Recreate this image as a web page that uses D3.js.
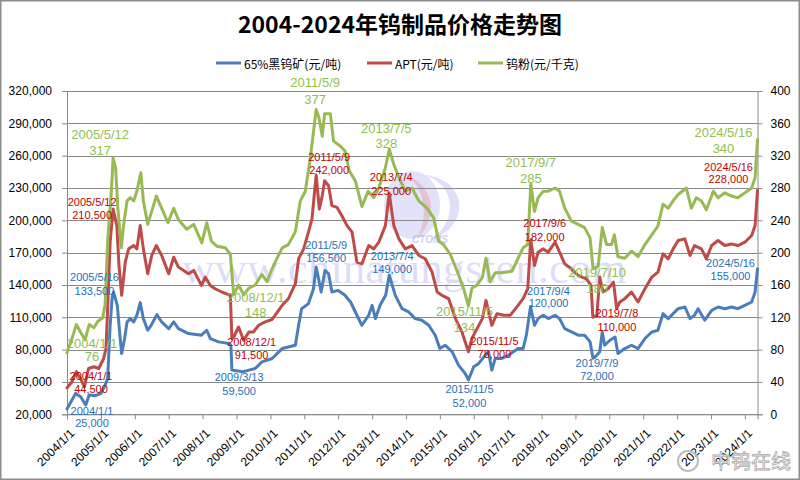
<!DOCTYPE html>
<html>
<head>
<meta charset="utf-8">
<script src="https://cdn.jsdelivr.net/npm/d3@7"></script>
<style>
  body { margin: 0; background: #fff; }
  svg { display: block; }
</style>
</head>
<body>
<script>
// series: [date, value]
var oreData = [
  ["2004-01-01",25000],["2004-04-03",39400],["2004-05-27",36300],["2004-07-21",28600],["2004-08-27",37900],
  ["2004-11-05",37300],["2005-01-01",39400],["2005-02-15",47100],["2005-03-14",53300],["2005-04-10",102600],
  ["2005-05-01",128000],["2005-05-16",133500],["2005-06-26",121000],["2005-07-27",90300],["2005-08-12",76400],
  ["2005-09-13",90300],["2005-10-09",105700],["2005-11-12",108800],["2005-12-20",105700],["2006-01-23",111900],
  ["2006-02-28",123600],["2006-04-03",108800],["2006-05-20",98000],["2006-06-26",102600],["2006-08-27",112500],
  ["2006-10-17",105700],["2007-01-01",99500],["2007-02-24",105700],["2007-04-15",99500],["2007-08-02",94900],
  ["2007-12-20",93400],["2008-02-15",98000],["2008-03-25",90300],["2008-06-21",87200],["2008-10-09",85700],
  ["2008-11-01",84000],["2008-11-12",61000],["2009-01-01",60500],["2009-03-13",59500],["2009-05-14",61000],
  ["2009-07-21",62500],["2009-10-01",68700],["2010-01-19",71800],["2010-05-08",81000],["2010-09-27",84100],
  ["2010-11-01",102600],["2010-12-03",118000],["2011-02-15",122700],["2011-04-10",136500],["2011-05-09",156500],
  ["2011-06-08",144200],["2011-07-02",133500],["2011-08-12",153500],["2011-09-20",150400],["2011-10-26",133500],
  ["2012-01-01",135000],["2012-03-14",130400],["2012-05-14",124200],["2012-07-21",111900],["2012-09-13",102600],
  ["2012-11-25",111900],["2013-01-01",121100],["2013-02-06",108800],["2013-03-28",121100],["2013-05-27",130400],
  ["2013-07-04",149000],["2013-09-08",130400],["2013-11-19",118000],["2014-01-30",115000],["2014-04-10",108800],
  ["2014-06-21",107300],["2014-09-03",102600],["2014-11-12",93400],["2015-01-01",81000],["2015-02-28",84100],
  ["2015-05-14",78000],["2015-07-21",65600],["2015-10-01",57900],["2015-11-05",52000],["2016-01-01",64100],
  ["2016-02-24",67200],["2016-05-05",74900],["2016-06-08",78000],["2016-07-14",61000],["2016-08-20",71800],
  ["2016-10-30",71800],["2017-01-12",74900],["2017-04-23",81000],["2017-06-16",81000],["2017-07-21",93400],
  ["2017-09-04",120000],["2017-10-17",102600],["2017-11-25",108800],["2018-01-19",111900],["2018-03-14",108800],
  ["2018-05-27",111900],["2018-07-14",108800],["2018-09-08",99500],["2018-11-19",96400],["2019-01-30",93400],
  ["2019-04-10",93400],["2019-06-08",87200],["2019-07-09",72000],["2019-07-30",73000],["2019-09-20",78000],
  ["2019-10-17",96400],["2019-11-12",84100],["2020-01-08",88700],["2020-03-03",91700],["2020-04-03",76400],
  ["2020-06-16",81000],["2020-08-27",84100],["2020-11-05",81000],["2021-01-19",90300],["2021-04-03",96400],
  ["2021-06-08",98000],["2021-08-02",113400],["2021-09-27",108800],["2021-11-19",113400],["2022-01-12",118000],
  ["2022-03-25",119600],["2022-05-20",108800],["2022-07-07",111900],["2022-08-15",118000],["2022-10-26",107300],
  ["2023-01-08",116500],["2023-03-18",119600],["2023-05-30",118000],["2023-08-10",119600],["2023-10-17",118000],
  ["2024-01-01",121100],["2024-03-14",124200],["2024-04-20",133500],["2024-05-16",155000]
];

var aptData = [
  ["2004-01-01",44500],["2004-02-24",50200],["2004-04-10",59500],["2004-05-24",53300],["2004-07-07",45600],
  ["2004-08-20",62500],["2004-10-17",64100],["2004-12-08",62500],["2005-01-30",71800],["2005-02-24",81000],
  ["2005-03-14",118000],["2005-04-10",179700],["2005-05-12",210500],["2005-06-21",195100],["2005-07-14",158100],
  ["2005-08-12",130400],["2005-09-20",161200],["2005-10-26",173500],["2005-12-20",176600],["2006-01-23",173500],
  ["2006-02-28",195100],["2006-04-03",173500],["2006-05-20",150400],["2006-07-02",167400],["2006-08-20",176600],
  ["2006-10-17",167400],["2007-01-01",150400],["2007-02-24",165800],["2007-04-15",156600],["2007-08-02",150400],
  ["2007-09-27",153500],["2007-12-20",139600],["2008-01-30",147300],["2008-03-25",139600],["2008-05-14",136500],
  ["2008-07-27",133500],["2008-10-26",130400],["2008-11-12",90300],["2008-12-01",91500],["2009-01-23",101000],
  ["2009-03-18",88700],["2009-05-14",96400],["2009-07-02",96400],["2009-08-27",102600],["2009-11-05",105700],
  ["2010-01-19",108000],["2010-05-08",121100],["2010-07-14",127300],["2010-09-27",141200],["2010-11-01",164300],
  ["2010-12-25",173500],["2011-02-15",189000],["2011-03-25",201300],["2011-05-09",242000],["2011-06-12",210500],
  ["2011-07-14",222900],["2011-08-08",236700],["2011-09-20",232100],["2011-10-26",213600],["2011-12-20",212000],
  ["2012-02-10",204300],["2012-04-06",195100],["2012-05-30",189000],["2012-07-21",161200],["2012-09-13",159600],
  ["2012-11-25",176600],["2013-01-19",173500],["2013-03-14",179700],["2013-05-24",195100],["2013-07-04",225000],
  ["2013-08-23",195100],["2013-10-17",182800],["2013-12-24",173500],["2014-03-07",176600],["2014-05-20",167400],
  ["2014-07-27",164300],["2014-10-09",152000],["2014-12-03",133500],["2015-01-23",130400],["2015-04-06",127300],
  ["2015-06-18",108800],["2015-08-27",96400],["2015-11-05",78000],["2015-12-12",90300],["2016-02-06",99500],
  ["2016-04-03",108800],["2016-05-12",125700],["2016-07-14",102600],["2016-09-08",113400],["2016-11-19",111900],
  ["2017-01-30",112000],["2017-04-23",121100],["2017-06-16",127300],["2017-08-05",136500],["2017-09-06",182000],
  ["2017-10-17",158100],["2017-11-25",170400],["2018-01-19",173500],["2018-03-14",170400],["2018-05-27",179700],
  ["2018-07-14",170400],["2018-09-08",159600],["2018-11-19",155000],["2019-01-30",148800],["2019-04-30",145700],
  ["2019-06-18",139600],["2019-07-08",110000],["2019-08-20",111900],["2019-09-20",147300],["2019-10-26",133500],
  ["2019-12-20",136500],["2020-02-15",142700],["2020-03-20",118000],["2020-04-23",124200],["2020-06-16",127300],
  ["2020-08-27",133500],["2020-11-05",124200],["2021-01-19",136500],["2021-04-03",147300],["2021-06-08",152000],
  ["2021-08-02",168900],["2021-09-27",164300],["2021-11-19",173500],["2022-01-12",181300],["2022-03-25",182800],
  ["2022-05-20",167400],["2022-07-07",176600],["2022-09-20",173500],["2022-11-12",164300],["2023-01-08",176600],
  ["2023-03-18",181300],["2023-05-30",176600],["2023-08-10",178100],["2023-10-17",176600],["2024-01-01",179700],
  ["2024-03-14",185900],["2024-04-20",195100],["2024-05-16",228000]
];

// 钨粉, 元/千克, right axis
var powderData = [
  ["2004-01-01",76],["2004-02-24",94],["2004-04-10",111],["2004-05-24",102],["2004-07-14",92],
  ["2004-08-27",111],["2004-10-17",107],["2004-11-28",115],["2005-01-19",119],["2005-02-15",136],
  ["2005-03-14",214],["2005-04-23",276],["2005-05-12",317],["2005-06-08",305],["2005-07-02",255],
  ["2005-08-08",206],["2005-09-03",235],["2005-10-09",264],["2005-11-12",268],["2005-12-20",264],
  ["2006-01-23",276],["2006-03-07",299],["2006-04-03",264],["2006-05-20",235],["2006-07-02",251],
  ["2006-08-20",270],["2006-10-17",255],["2006-12-24",237],["2007-02-24",255],["2007-04-15",241],
  ["2007-07-14",229],["2007-09-27",235],["2007-12-24",212],["2008-02-15",237],["2008-04-06",214],
  ["2008-06-03",208],["2008-09-03",206],["2008-10-26",198],["2008-12-01",148],["2009-01-23",160],
  ["2009-03-18",148],["2009-05-14",156],["2009-07-21",160],["2009-10-01",173],["2009-11-25",164],
  ["2010-01-19",180],["2010-02-24",189],["2010-05-08",206],["2010-07-14",210],["2010-09-27",226],
  ["2010-11-19",264],["2011-01-12",276],["2011-03-07",317],["2011-05-09",377],["2011-06-08",367],
  ["2011-07-14",344],["2011-08-08",372],["2011-10-09",372],["2011-11-12",338],["2012-01-23",332],
  ["2012-03-14",326],["2012-05-01",301],["2012-07-07",288],["2012-09-13",257],["2012-11-19",276],
  ["2013-01-19",268],["2013-03-14",280],["2013-05-24",305],["2013-07-05",328],["2013-08-23",309],
  ["2013-10-17",293],["2013-12-24",276],["2014-03-07",280],["2014-05-20",264],["2014-08-15",255],
  ["2014-10-26",243],["2014-12-20",214],["2015-02-10",210],["2015-04-23",198],["2015-07-07",177],
  ["2015-09-13",156],["2015-11-05",134],["2015-12-12",156],["2016-02-06",160],["2016-04-03",169],
  ["2016-05-12",193],["2016-06-26",164],["2016-08-20",175],["2016-10-30",175],["2017-02-15",177],
  ["2017-04-23",193],["2017-06-16",206],["2017-08-05",210],["2017-09-07",285],["2017-10-17",251],
  ["2017-11-25",268],["2018-01-19",276],["2018-03-14",276],["2018-05-27",280],["2018-07-14",276],
  ["2018-09-08",255],["2018-11-19",239],["2019-01-30",235],["2019-04-10",231],["2019-06-08",218],
  ["2019-07-10",180],["2019-09-03",183],["2019-10-17",231],["2019-12-03",210],["2020-01-26",210],
  ["2020-02-24",222],["2020-04-03",195],["2020-06-16",193],["2020-08-27",202],["2020-11-05",195],
  ["2021-01-19",210],["2021-04-03",222],["2021-06-08",233],["2021-08-02",260],["2021-09-27",255],
  ["2021-11-19",264],["2022-01-12",272],["2022-04-10",280],["2022-06-03",255],["2022-07-27",268],
  ["2022-09-20",264],["2022-11-12",253],["2023-01-26",276],["2023-03-18",268],["2023-05-30",274],
  ["2023-08-10",270],["2023-10-17",268],["2024-01-01",274],["2024-03-14",280],["2024-04-20",293],
  ["2024-05-16",340]
];

var seriesNames = ["65%黑钨矿(元/吨)", "APT(元/吨)", "钨粉(元/千克)"];
var leftTicks = [20000, 50000, 80000, 110000, 140000, 170000, 200000, 230000, 260000, 290000, 320000];
var rightTicks = [0, 40, 80, 120, 160, 200, 240, 280, 320, 360, 400];
var yearTicks = d3.range(2004, 2025).map(function(y) { return y + "-01-01"; });

// annotated points: [date, value, date label, value label]
var oreNotes = [
  ["2004-01-01",25000,"2004/1/1","25,000"],["2005-05-16",133500,"2005/5/16","133,500"],
  ["2009-03-13",59500,"2009/3/13","59,500"],["2011-05-09",156500,"2011/5/9","156,500"],
  ["2013-07-04",149000,"2013/7/4","149,000"],["2015-11-05",52000,"2015/11/5","52,000"],
  ["2017-09-04",120000,"2017/9/4","120,000"],["2019-07-09",72000,"2019/7/9","72,000"],
  ["2024-05-16",155000,"2024/5/16","155,000"]
];
var aptNotes = [
  ["2004-01-01",44500,"2004/1/1","44,500"],["2005-05-12",210500,"2005/5/12","210,500"],
  ["2008-12-01",91500,"2008/12/1","91,500"],["2011-05-09",242000,"2011/5/9","242,000"],
  ["2013-07-04",225000,"2013/7/4","225,000"],["2015-11-05",78000,"2015/11/5","78,000"],
  ["2017-09-06",182000,"2017/9/6","182,000"],["2019-07-08",110000,"2019/7/8","110,000"],
  ["2024-05-16",228000,"2024/5/16","228,000"]
];
var powderNotes = [
  ["2004-01-01",76,"2004/1/1","76"],["2005-05-12",317,"2005/5/12","317"],
  ["2008-12-01",148,"2008/12/1","148"],["2011-05-09",377,"2011/5/9","377"],
  ["2013-07-05",328,"2013/7/5","328"],["2015-11-05",134,"2015/11/5","134"],
  ["2017-09-07",285,"2017/9/7","285"],["2019-07-10",180,"2019/7/10","180"],
  ["2024-05-16",340,"2024/5/16","340"]
];
// label offsets from the point: [dx, dy of date line, dy of value line]
var oreOffsets = [[25,2,14],[-19,-15,-1],[-4,5,19],[10,-22,-9],[3,-19,-6],[1,9,23],[18,-16,-4],[4,5,18],[-27,-6,7]];
var aptOffsets = [[24,-12,1],[-21,-7,6],[18,5,18],[13,-18,-5],[2,-16,-2],[26,-11,2],[14,-17,-3],[24,-4,10],[-29,-23,-11]];
var powderOffsets = [[25,-9,4],[-13,-24,-8],[22,3,18],[-1,-27,-10],[-3,-21,-6],[-4,6,22],[0,-21,-5],[4,4,20],[-34,-7,9]];

var width = 800, height = 480;
var colors = ["#4a7ebb", "#be4b48", "#98b954"];
var noteColors = ["#1f6fb8", "#c00000", "#92c050"];
var parse = d3.timeParse("%Y-%m-%d");

var svg = d3.select("body").append("svg")
  .attr("width", width)
  .attr("height", height)
  .style("font-family", "'Liberation Sans', Arial, sans-serif");

svg.append("rect")
  .attr("x", 0.75).attr("y", 0.75)
  .attr("width", width - 1.5).attr("height", height - 1.5)
  .attr("fill", "#fff").attr("stroke", "#8c8c8c").attr("stroke-width", 1.5);

var x = d3.scaleTime()
  .domain([parse("2004-01-01"), parse("2024-05-16")])
  .range([67, 757.5]);
var yL = d3.scaleLinear().domain([20000, 320000]).range([414.3, 91]);
var yR = d3.scaleLinear().domain([0, 400]).range([414.3, 91]);

// watermark
var wm = svg.append("g").attr("pointer-events", "none");
wm.append("ellipse").attr("cx", 412).attr("cy", 205).attr("rx", 28).attr("ry", 34)
  .attr("fill", "rgba(110,110,230,0.2)");
wm.append("path").attr("d", "M392,170 C420,175 432,205 418,238 C440,215 436,180 392,170 Z")
  .attr("fill", "rgba(230,80,80,0.22)");
wm.append("path").attr("d", "M425,175 C455,185 460,220 430,240 C470,228 470,180 425,175 Z")
  .attr("fill", "rgba(110,110,230,0.22)");
wm.append("text").attr("x", 430).attr("y", 243).attr("text-anchor", "middle")
  .style("font-size", "10px").style("font-style", "italic").style("font-weight", "bold")
  .attr("fill", "rgba(110,110,230,0.35)").text("CTOMS");
wm.append("text").attr("x", 182).attr("y", 283)
  .style("font-family", "'Liberation Serif', 'DejaVu Serif', serif").style("font-size", "45px")
  .attr("fill", "rgba(120,120,235,0.25)").text("www.chinatungsten.com");

// gridlines
svg.append("g").selectAll("line").data(leftTicks).enter().append("line")
  .attr("x1", 67).attr("x2", 757.5)
  .attr("y1", function(d) { return Math.round(yL(d)) + 0.5; })
  .attr("y2", function(d) { return Math.round(yL(d)) + 0.5; })
  .attr("stroke", "#8a8a8a").attr("stroke-width", 1);

// axes
var fmt = d3.format(",");
var gL = svg.append("g").attr("transform", "translate(67,0)")
  .call(d3.axisLeft(yL).tickValues(leftTicks).tickFormat(fmt).tickSize(5).tickPadding(10));
var gR = svg.append("g").attr("transform", "translate(757.5,0)")
  .call(d3.axisRight(yR).tickValues(rightTicks).tickSize(5).tickPadding(8));
var gB = svg.append("g").attr("transform", "translate(0,414.3)")
  .call(d3.axisBottom(x).tickValues(yearTicks.map(parse)).tickFormat(d3.timeFormat("%Y/%-m/%-d")).tickSize(5));
[gL, gR, gB].forEach(function(g) {
  g.select(".domain").attr("stroke", "#8a8a8a");
  g.selectAll(".tick line").attr("stroke", "#8a8a8a");
  g.selectAll("text").style("font-size", "12px").attr("fill", "#000")
    .style("font-family", "'Liberation Sans', Arial, sans-serif");
});
gB.selectAll("text")
  .attr("text-anchor", "end")
  .attr("dx", 0).attr("dy", 0)
  .attr("transform", "translate(2,14) rotate(-45)");

// lines
function drawLine(data, yScale, color) {
  var line = d3.line()
    .x(function(d) { return x(parse(d[0])); })
    .y(function(d) { return yScale(d[1]); });
  svg.append("path").datum(data)
    .attr("d", line)
    .attr("fill", "none")
    .attr("stroke", color)
    .attr("stroke-width", 3)
    .attr("stroke-linejoin", "round")
    .attr("stroke-linecap", "round");
}
drawLine(oreData, yL, colors[0]);
drawLine(aptData, yL, colors[1]);
drawLine(powderData, yR, colors[2]);

// annotations
function drawNotes(notes, offsets, yScale, color, size) {
  var g = svg.append("g")
    .attr("fill", color)
    .attr("text-anchor", "middle")
    .style("font-size", size + "px");
  notes.forEach(function(n, i) {
    var px = x(parse(n[0])), py = yScale(n[1]), o = offsets[i];
    g.append("text").attr("x", px + o[0]).attr("y", py + o[1])
      .attr("dominant-baseline", "central").text(n[2]);
    g.append("text").attr("x", px + o[0]).attr("y", py + o[2])
      .attr("dominant-baseline", "central").text(n[3]);
  });
}
drawNotes(oreNotes, oreOffsets, yL, noteColors[0], 11);
drawNotes(aptNotes, aptOffsets, yL, noteColors[1], 11);
drawNotes(powderNotes, powderOffsets, yR, noteColors[2], 13);

// title
svg.append("text")
  .attr("x", 400).attr("y", 33)
  .attr("text-anchor", "middle")
  .style("font-family", "'Noto Sans CJK SC', sans-serif")
  .style("font-weight", "bold")
  .style("font-size", "23px")
  .text("2004-2024年钨制品价格走势图");

// legend
var legendX = [216, 367, 478];
var legend = svg.append("g").selectAll("g").data(seriesNames).enter().append("g")
  .attr("transform", function(d, i) { return "translate(" + legendX[i] + ",63)"; });
legend.append("line").attr("x1", 0).attr("x2", 25).attr("y1", 0).attr("y2", 0)
  .attr("stroke", function(d, i) { return colors[i]; }).attr("stroke-width", 3);
legend.append("text").attr("x", 28).attr("y", 0)
  .attr("dominant-baseline", "central")
  .style("font-family", "'Noto Sans CJK SC', sans-serif")
  .style("font-size", "12px")
  .text(function(d) { return d; });

// weibo mark
var wb = svg.append("g");
wb.append("circle").attr("cx", 688).attr("cy", 461).attr("r", 10)
  .attr("fill", "none").attr("stroke", "#bbb").attr("stroke-width", 2);
wb.append("text").attr("x", 711).attr("y", 469)
  .style("font-family", "'Noto Sans CJK SC', sans-serif").style("font-size", "20px")
  .attr("fill", "#fff").attr("stroke", "#aaa").attr("stroke-width", 0.8)
  .text("中钨在线");
</script>
</body>
</html>
